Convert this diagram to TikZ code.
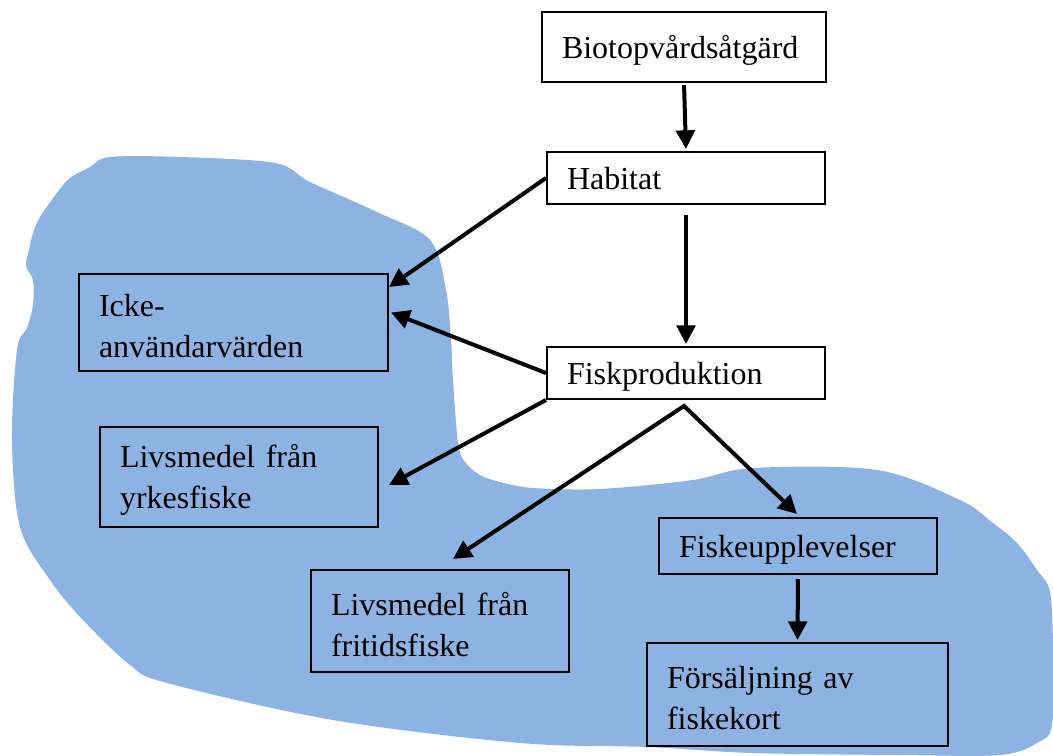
\documentclass[tikz,border=0pt]{standalone}
\usepackage{fontspec}
\setmainfont{Liberation Serif}
\usetikzlibrary{arrows.meta,calc}
\definecolor{blobblue}{RGB}{141,179,226}
\begin{document}
\begin{tikzpicture}[x=0.75pt,y=0.75pt,yscale=-1,xscale=1,
    box/.style 2 args={draw, line width=1.5pt, inner xsep=15pt, inner ysep=0pt, align=left,
        text width=#1, minimum height=#2, font=\fontsize{24}{30.75}\selectfont,
        execute at begin node={\rule[-0.22em]{0pt}{1.15em}}},
    arr/.style={-{Triangle[length=14pt,width=14pt]}, line width=3pt},
    twoarr/.style={{Triangle[length=14pt,width=14pt]}-{Triangle[length=14pt,width=14pt]}, line width=3pt}]
    \useasboundingbox (0,0) rectangle (1053,756);
    % blue area
    \fill [blobblue] plot [smooth cycle, tension=0.55] coordinates {
        (110,157) (180,157) (275,163) (310,182) (377,212) (430,240) (446,290) (451,340)
        (453,380) (458,443) (465,462) (480,475) (500,482) (533,488) (600,489) (693,480)
        (753,468) (877,470) (960,500) (993,523) (1017,543) (1037,570) (1050,592) (1053,650)
        (1052,725) (1037,743) (1000,755) (900,755) (753,753) (647,747) (520,743) (333,720)
        (167,683) (130,665) (83,620) (50,580) (20,527) (12,440) (17,350) (27,328) (33,305)
        (33,280) (26,266) (29,250) (33,233) (40,217) (57,193) (70,178) (90,167)};
    % boxes
    \node [box={183pt}{52.5pt}] (bio) at (684,47) {Biotopvårdsåtgärd};
    \node [box={178.5pt}{39pt}] (hab) at (686,178) {Habitat};
    \node [box={201.75pt}{72.75pt}] (icke) at (233.5,322.5) {Icke-\\användarvärden};
    \node [box={178.5pt}{39pt}] (fisk) at (686,373) {Fiskproduktion};
    \node [box={178.5pt}{75pt}] (yrkes) at (239,477) {Livsmedel från\\yrkesfiske};
    \node [box={163.5pt}{76.5pt}] (fritid) at (440,621) {Livsmedel från\\fritidsfiske};
    \node [box={178.5pt}{42pt}] (upplev) at (798,546) {Fiskeupplevelser};
    \node [box={195.75pt}{77.25pt}] (fors) at (797.5,694.5) {Försäljning av\\fiskekort};
    \coordinate (fork) at ($(fisk.south)+(-2,6)$);
    % arrows
    \draw [arr, shorten <=1.5pt, shorten >=1.5pt] (bio.south) -- (hab.north);
    \draw [arr] (hab.west) -- ($(icke.north east)+(0,14)$);
    \draw [arr, shorten <=7.5pt, shorten >=1.5pt] (hab.south) -- (fisk.north);
    \draw [arr] (fisk.west) -- ($(icke.east)+(2,-10)$);
    \draw [arr] (fisk.south west) -- ($(yrkes.east)+(10,8)$);
    \draw [twoarr] ($(fritid.north)+(13,-10)$) -- (fork) -- ($(upplev.north)+(-1,-3)$);
    \draw [arr, shorten <=3pt, shorten >=1.5pt] (upplev.south) -- (fors.north);
\end{tikzpicture}
\end{document}
